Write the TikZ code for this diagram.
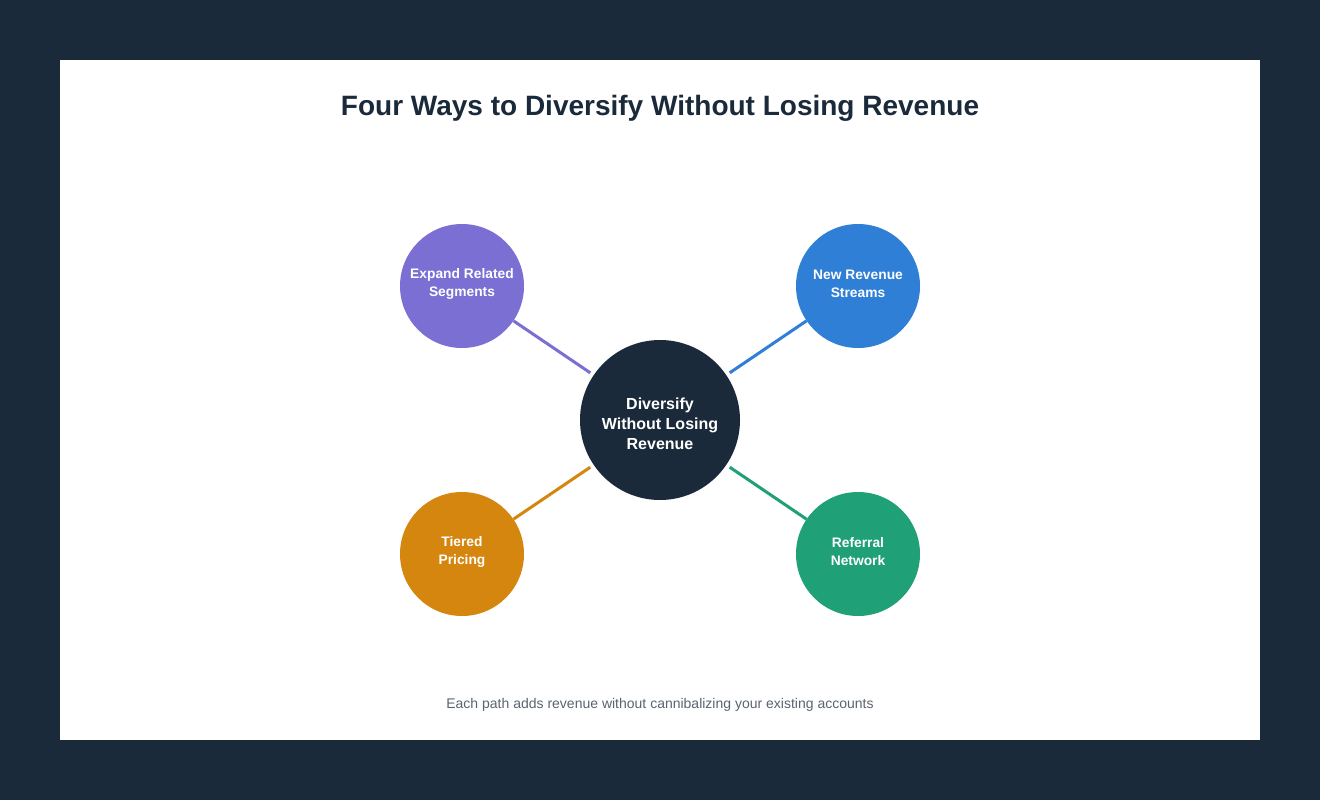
\documentclass[tikz,border=0pt]{standalone}
\usepackage{fontspec}
\setmainfont{Liberation Sans}
\definecolor{bgnavy}{HTML}{1B2A3A}
\definecolor{cpurple}{HTML}{7B6FD4}
\definecolor{cblue}{HTML}{2F7FD6}
\definecolor{corange}{HTML}{D4860F}
\definecolor{cgreen}{HTML}{1FA077}
\definecolor{footgray}{HTML}{5A6470}
\begin{document}
\begin{tikzpicture}[x=1pt,y=-1pt,
  hub/.style={circle,fill=bgnavy,minimum size=160pt,inner sep=0pt},
  leaf/.style={circle,fill=#1,minimum size=124pt,inner sep=0pt},
  leaftext/.style={text=white,align=center,font=\fontsize{13.8}{18}\selectfont\bfseries},
  link/.style={draw=#1,line width=3pt,shorten <=4pt}]
\fill[bgnavy] (0,0) rectangle (1320,800);
\useasboundingbox (0,0) rectangle (1320,800);
\fill[white] (60,60) rectangle (1260,740);
\node[font=\fontsize{28}{32}\selectfont\bfseries,text=bgnavy] (title) at (660,108) {Four Ways to Diversify Without Losing Revenue};
\node[hub] (hub) at (660,420) {};
\node[text=white,align=center,font=\fontsize{16}{20}\selectfont\bfseries] (hubtext) at (660,424) {Diversify\\Without Losing\\Revenue};
\node[leaf=cpurple] (expand) at (462,286) {};
\node[leaf=cblue] (streams) at (858,286) {};
\node[leaf=corange] (tiered) at (462,554) {};
\node[leaf=cgreen] (referral) at (858,554) {};
\node[leaftext] (expandtext) at (462,284) {Expand Related\\Segments};
\node[leaftext] (streamstext) at (858,284) {New Revenue\\Streams};
\node[leaftext] (tieredtext) at (462,552) {Tiered\\Pricing};
\node[leaftext] (referraltext) at (858,552) {Referral\\Network};
\draw[link=cpurple] (hub) -- (expand);
\draw[link=cblue] (hub) -- (streams);
\draw[link=corange] (hub) -- (tiered);
\draw[link=cgreen] (hub) -- (referral);
\node[font=\fontsize{14}{16}\selectfont,text=footgray] (foot) at (660,705) {Each path adds revenue without cannibalizing your existing accounts};
\end{tikzpicture}
\end{document}
